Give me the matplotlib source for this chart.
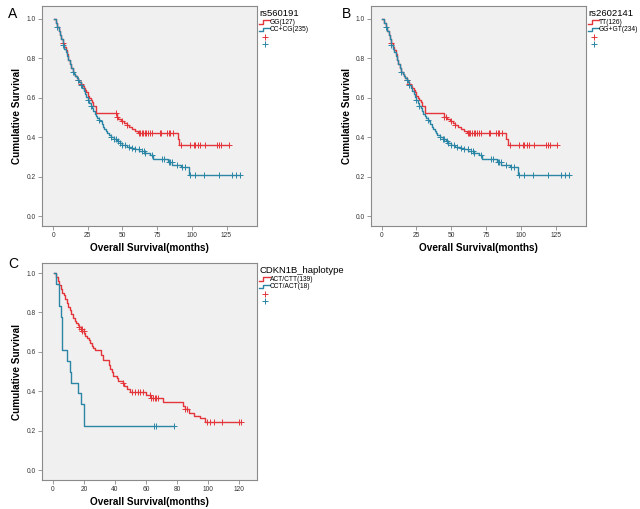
import numpy as np
import matplotlib
matplotlib.use("Agg")
import matplotlib.pyplot as plt
from matplotlib.legend_handler import HandlerBase
from matplotlib.lines import Line2D

plt.rcParams['font.family'] = ['Liberation Sans', 'DejaVu Sans']

RED = '#e4353b'
TEAL = '#2b86a6'

# ---------------- Panel A : rs560191 ----------------
a_red_t = [0.5, 2, 3, 4, 5, 6, 7, 8, 9, 10, 11, 12, 13, 14, 15, 16, 17, 18, 19, 20, 21, 22, 23,
           24, 25, 26, 27, 28, 29, 31, 46, 47, 49, 51, 53, 55, 57, 59, 61, 90]
a_red_s = [1.0, 0.98, 0.96, 0.94, 0.92, 0.90, 0.88, 0.86, 0.84, 0.82, 0.79, 0.77, 0.75, 0.73, 0.72,
           0.71, 0.70, 0.69, 0.68, 0.67, 0.66, 0.65, 0.64, 0.63, 0.61, 0.60, 0.59, 0.58, 0.56,
           0.525, 0.505, 0.495, 0.48, 0.47, 0.46, 0.45, 0.44, 0.43, 0.42, 0.39]
a_red_end_t = 91
a_red_end_s = 0.36
a_red_cens = [7, 18, 20, 45, 46, 50, 53, 61.7, 62.9, 63.8, 64.8, 66, 67.2, 68.4, 70, 71.3, 76.8, 78,
              82.1, 83.3, 84.5, 86.2, 92.5, 99, 101.4, 102.6, 104.5, 106.2, 109.3, 118.3, 119.4,
              120.7, 126.5]

a_teal_t = [0.5, 2, 3, 4, 5, 6, 7, 8, 9, 10, 11, 12, 13, 14, 15, 16, 17, 18, 19, 20, 21, 22, 23,
            24, 25, 26, 27, 28, 29, 30, 31, 32, 33, 34, 35, 36, 37, 38, 39, 40, 42, 44, 46, 48, 50,
            53, 56, 59, 62, 66, 70, 72, 83, 86, 92]
a_teal_s = [1.0, 0.98, 0.96, 0.94, 0.92, 0.90, 0.87, 0.85, 0.83, 0.81, 0.79, 0.77, 0.75, 0.73, 0.72,
            0.71, 0.70, 0.69, 0.68, 0.665, 0.65, 0.635, 0.62, 0.605, 0.59, 0.575, 0.56, 0.55,
            0.535, 0.52, 0.51, 0.50, 0.49, 0.48, 0.465, 0.45, 0.44, 0.43, 0.42, 0.41, 0.40, 0.39,
            0.38, 0.37, 0.36, 0.35, 0.345, 0.34, 0.33, 0.32, 0.31, 0.29, 0.275, 0.26, 0.25]
a_teal_end_t = 98
a_teal_end_s = 0.21
a_teal_cens = [3, 7, 14, 18, 20, 25, 27, 33, 42, 44, 45, 47, 48, 50, 52, 54.4, 56.8, 59.2, 61.7,
               64.1, 65.3, 66.5, 71.3, 78.5, 79.7, 83.3, 84.5, 85.8, 89.4, 93, 95.4, 99, 102.6,
               108.6, 119.4, 129.1, 131.5, 134.5]

# ---------------- Panel B : rs2602141 ----------------
b_red_t = [0.5, 2, 3, 4, 5, 6, 7, 8, 9, 10, 11, 12, 13, 14, 15, 16, 17, 18, 19, 20, 21, 22, 23,
           24, 25, 26, 27, 28, 29, 31, 45, 47, 49, 51, 53, 55, 57, 59, 61, 89]
b_red_s = [1.0, 0.98, 0.96, 0.94, 0.92, 0.90, 0.88, 0.86, 0.84, 0.82, 0.79, 0.77, 0.75, 0.73, 0.72,
           0.71, 0.70, 0.69, 0.68, 0.67, 0.66, 0.65, 0.64, 0.63, 0.61, 0.60, 0.59, 0.58, 0.56,
           0.525, 0.505, 0.495, 0.48, 0.47, 0.46, 0.45, 0.44, 0.43, 0.42, 0.39]
b_red_end_t = 91
b_red_end_s = 0.36
b_red_cens = [7, 18, 20, 45, 46, 50, 53, 61.7, 62.9, 63.8, 64.8, 66, 67.2, 68.4, 70, 71.3, 76.8, 78,
              82.1, 83.3, 84.5, 86.2, 92.5, 99, 101.4, 102.6, 104.5, 106.2, 109.3, 118.3, 119.4,
              120.7, 126]
b_teal_t = [0.5, 2, 3, 4, 5, 6, 7, 8, 9, 10, 11, 12, 13, 14, 15, 16, 17, 18, 19, 20, 21, 22, 23,
            24, 25, 26, 27, 28, 29, 30, 31, 32, 33, 34, 35, 36, 37, 38, 39, 40, 42, 44, 46, 48, 50,
            53, 56, 59, 62, 66, 70, 72, 83, 86, 92]
b_teal_s = [1.0, 0.98, 0.96, 0.94, 0.92, 0.90, 0.87, 0.85, 0.83, 0.81, 0.79, 0.77, 0.75, 0.73, 0.72,
            0.71, 0.70, 0.69, 0.68, 0.665, 0.65, 0.635, 0.62, 0.605, 0.59, 0.575, 0.56, 0.55,
            0.535, 0.52, 0.51, 0.50, 0.49, 0.48, 0.465, 0.45, 0.44, 0.43, 0.42, 0.41, 0.40, 0.39,
            0.38, 0.37, 0.36, 0.35, 0.345, 0.34, 0.33, 0.32, 0.31, 0.29, 0.275, 0.26, 0.25]
b_teal_end_t = 98
b_teal_end_s = 0.21
b_teal_cens = [3, 7, 14, 18, 20, 25, 27, 33, 42, 44, 45, 47, 48, 50, 52, 54.4, 56.8, 59.2, 61.7,
               64.1, 65.3, 66.5, 71.3, 78.5, 79.7, 83.3, 84.5, 85.8, 89.4, 93, 95.4, 99, 102.6,
               108.6, 119.4, 129.1, 131.5, 134.5]

# ---------------- Panel C : CDKN1B_haplotype ----------------
c_red_t = [0.5, 2, 3, 4, 5, 6, 7, 8, 9, 10, 11, 12, 13, 14, 15, 16, 17, 18, 19, 20, 21, 22, 23,
           24, 25, 26, 27, 31, 32, 36, 37, 38, 39, 41, 42, 45, 46, 48, 50, 60, 63, 71, 84, 85, 88,
           91, 95]
c_red_s = [1.0, 0.98, 0.96, 0.94, 0.92, 0.90, 0.89, 0.87, 0.85, 0.83, 0.81, 0.79, 0.77, 0.755,
           0.745, 0.735, 0.725, 0.715, 0.705, 0.695, 0.68, 0.67, 0.66, 0.645, 0.63, 0.62, 0.61,
           0.585, 0.56, 0.535, 0.515, 0.50, 0.48, 0.465, 0.45, 0.44, 0.425, 0.41, 0.395, 0.38,
           0.365, 0.345, 0.325, 0.31, 0.29, 0.275, 0.265]
c_red_end_t = 98
c_red_end_s = 0.245
c_red_cens = [17, 18, 18.5, 19, 19.8, 45, 50.9, 53, 54.8, 56.3, 58, 62.4, 63.5, 64.5, 65.5, 66.5,
              67.8, 85, 86.6, 99.4, 101.5, 103.7, 109, 119.8, 121.3]
c_teal_t = [0.5, 2, 4, 5, 6, 9, 11, 12, 16, 18]
c_teal_s = [1.0, 0.944, 0.833, 0.778, 0.611, 0.556, 0.5, 0.444, 0.389, 0.333]
c_teal_end_t = 20
c_teal_end_s = 0.222
c_teal_cens = [65.4, 66.2, 78.3]


class StepKey(Line2D):
    pass


class StepHandler(HandlerBase):
    def create_artists(self, legend, orig_handle, xdescent, ydescent, width, height,
                       fontsize, trans):
        lo = -ydescent + 0.05 * height
        hi = -ydescent + 0.85 * height
        xs = [-xdescent, -xdescent + 0.35 * width, -xdescent + 0.35 * width, -xdescent + width]
        ys = [lo, lo, hi, hi]
        ln = Line2D(xs, ys, color=orig_handle.get_color(), lw=1.0, transform=trans)
        return [ln]


def km(ax, t, s, end_t, end_s, cens, color):
    last = max(max(cens), end_t)
    tt = list(t) + [end_t, last]
    ss = list(s) + [end_s, end_s]
    ax.step(tt, ss, where='post', color=color, lw=1.0)
    tt_arr = np.array(tt)
    ss_arr = np.array(ss)
    cy = [ss_arr[np.searchsorted(tt_arr, c, side='right') - 1] for c in cens]
    ax.plot(cens, cy, ls='none', marker='+', ms=4, mew=0.7, color=color)


def style(ax, xlim, ylim, xticks):
    ax.set_facecolor('#f0f0f0')
    ax.set_xlim(*xlim)
    ax.set_ylim(*ylim)
    ax.set_xticks(xticks)
    ax.set_yticks([0.0, 0.2, 0.4, 0.6, 0.8, 1.0])
    ax.set_yticklabels(['%.1f' % v for v in [0.0, 0.2, 0.4, 0.6, 0.8, 1.0]])
    for sp in ax.spines.values():
        sp.set_color('#8a8a8a')
        sp.set_linewidth(0.8)
    ax.tick_params(axis='both', length=3, width=0.6, color='#8a8a8a', labelsize=4.8,
                   labelcolor='#333333', pad=1.5)
    ax.set_xlabel('Overall Survival(months)', fontsize=7.2, fontweight='bold', labelpad=3)
    ax.set_ylabel('Cumulative Survival', fontsize=7.2, fontweight='bold', labelpad=3)


def legend(ax, title, labels):
    h = [StepKey([0], [0], color=RED), StepKey([0], [0], color=TEAL),
         Line2D([0], [0], ls='none', marker='+', ms=4.5, mew=0.7, color=RED),
         Line2D([0], [0], ls='none', marker='+', ms=4.5, mew=0.7, color=TEAL)]
    lg = ax.legend(h, labels + ['', ''], title=title, loc='upper left',
                   bbox_to_anchor=(1.01, 0.985), frameon=False, fontsize=4.8,
                   title_fontsize=6.8, handlelength=1.6, handletextpad=0.0,
                   labelspacing=0.08, borderpad=0, borderaxespad=0,
                   handler_map={StepKey: StepHandler()}, alignment='left')
    return lg


fig = plt.figure(figsize=(6.4, 5.09), dpi=100)

axA = fig.add_axes([0.0656, 0.556, 0.336, 0.432])
km(axA, a_red_t, a_red_s, a_red_end_t, a_red_end_s, a_red_cens, RED)
km(axA, a_teal_t, a_teal_s, a_teal_end_t, a_teal_end_s, a_teal_cens, TEAL)
style(axA, (-8, 147), (-0.05, 1.065), [0, 25, 50, 75, 100, 125])
legend(axA, 'rs560191', ['GG(127)', 'CC+CG(235)'])

axB = fig.add_axes([0.580, 0.556, 0.336, 0.432])
km(axB, b_red_t, b_red_s, b_red_end_t, b_red_end_s, b_red_cens, RED)
km(axB, b_teal_t, b_teal_s, b_teal_end_t, b_teal_end_s, b_teal_cens, TEAL)
style(axB, (-7.5, 147), (-0.05, 1.065), [0, 25, 50, 75, 100, 125])
legend(axB, 'rs2602141', ['TT(126)', 'GG+GT(234)'])

axC = fig.add_axes([0.0656, 0.057, 0.336, 0.426])
km(axC, c_red_t, c_red_s, c_red_end_t, c_red_end_s, c_red_cens, RED)
km(axC, c_teal_t, c_teal_s, c_teal_end_t, c_teal_end_s, c_teal_cens, TEAL)
style(axC, (-7, 131.5), (-0.05, 1.05), [0, 20, 40, 60, 80, 100, 120])
legend(axC, 'CDKN1B_haplotype', ['ACT/CTT(139)', 'CCT/ACT(18)'])

fig.text(8 / 640, 1 - 18 / 509, 'A', fontsize=10)
fig.text(342 / 640, 1 - 18 / 509, 'B', fontsize=10)
fig.text(8 / 640, 1 - 268 / 509, 'C', fontsize=10)

fig.savefig('out.png', dpi=100)
